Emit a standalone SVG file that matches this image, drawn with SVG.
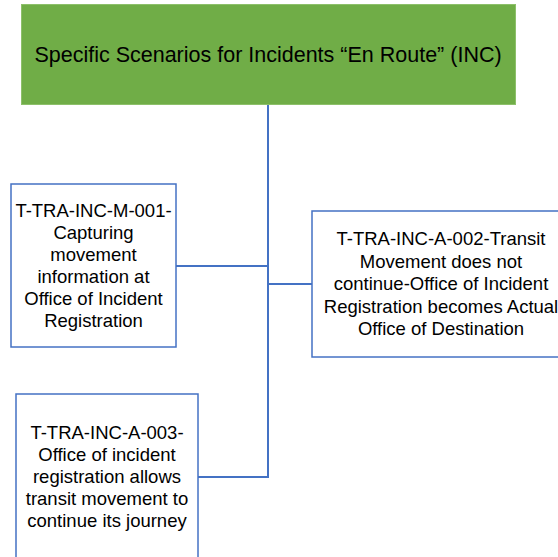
<svg xmlns="http://www.w3.org/2000/svg" width="558" height="557" viewBox="0 0 558 557">
<style>
.box{fill:#ffffff;stroke:#4472C4;stroke-width:1.5}
.t{font-family:"Liberation Sans",Arial,sans-serif;font-size:18.5px;fill:#000;text-anchor:middle}
.c{fill:none;stroke:#4472C4;stroke-width:2}
</style>
<rect width="558" height="557" fill="#ffffff"/>
<g id="connectors">
<line class="c" x1="268" y1="104" x2="268" y2="478"/>
<line class="c" x1="176" y1="266" x2="268" y2="266"/>
<line class="c" x1="268" y1="284" x2="312" y2="284"/>
<line class="c" x1="198" y1="477" x2="268" y2="477"/>
</g>
<g id="root">
<rect x="21.5" y="4.5" width="494" height="100" fill="#70AD47" stroke="#8DC06A" stroke-width="1"/>
<text class="t" x="268" y="62" style="font-size:21.5px">Specific Scenarios for Incidents “En Route” (INC)</text>
</g>
<g id="n1">
<rect class="box" x="11" y="184" width="165" height="163"/>
<text class="t" x="93.5" y="217">T-TRA-INC-M-001-</text>
<text class="t" x="93.5" y="239">Capturing</text>
<text class="t" x="93.5" y="261">movement</text>
<text class="t" x="93.5" y="283">information at</text>
<text class="t" x="93.5" y="305">Office of Incident</text>
<text class="t" x="93.5" y="327">Registration</text>
</g>
<g id="n2">
<rect class="box" x="312" y="211" width="270" height="146"/>
<text class="t" x="441" y="245">T-TRA-INC-A-002-Transit</text>
<text class="t" x="441" y="267.5">Movement does not</text>
<text class="t" x="441" y="290">continue-Office of Incident</text>
<text class="t" x="441" y="312.5">Registration becomes Actual</text>
<text class="t" x="441" y="335">Office of Destination</text>
</g>
<g id="n3">
<rect class="box" x="16" y="394" width="182" height="175"/>
<text class="t" x="107" y="439">T-TRA-INC-A-003-</text>
<text class="t" x="107" y="461">Office of incident</text>
<text class="t" x="107" y="483">registration allows</text>
<text class="t" x="107" y="505">transit movement to</text>
<text class="t" x="107" y="527">continue its journey</text>
</g>
</svg>
